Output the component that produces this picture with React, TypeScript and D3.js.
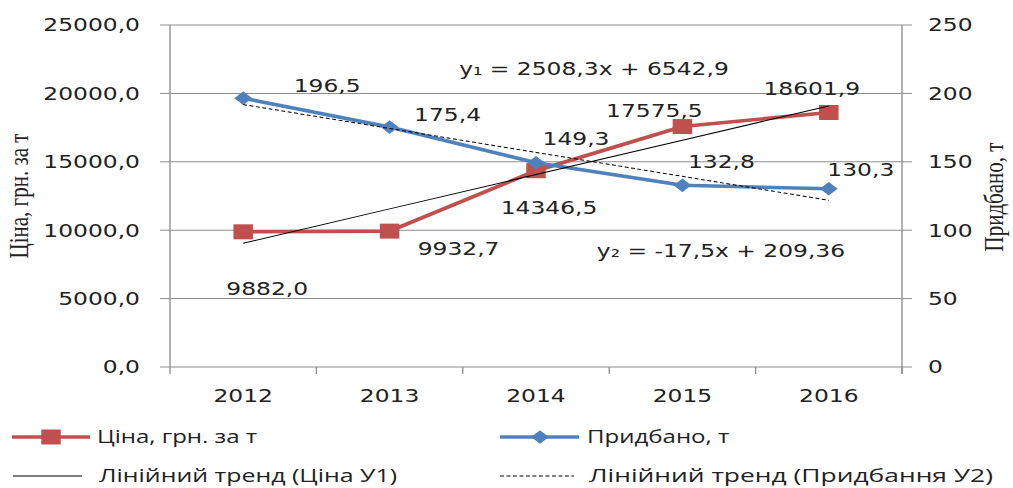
import * as d3 from 'd3';

// chart data
const years = ['2012', '2013', '2014', '2015', '2016'];
const price = [9882.0, 9932.7, 14346.5, 17575.5, 18601.9];
const bought = [196.5, 175.4, 149.3, 132.8, 130.3];
const leftTicks = [0, 5000, 10000, 15000, 20000, 25000];
const rightTicks = [0, 50, 100, 150, 200, 250];
const eq1 = 'y\u2081 = 2508,3x + 6542,9';
const eq2 = 'y\u2082 = -17,5x + 209,36';

// the picture is stretched sideways, so draw in a narrower space and scale x
const SX = 1.3;
const W = 1013;
const H = 488;
const v = (px: number) => px / SX;

// label offsets from their points, in screen pixels (dx to centre, dy to baseline)
const priceLabelOff = [[24, 63], [69, 24], [13, 43], [-28, -10], [-17, -18]];
const boughtLabelOff = [[84, -6], [58, -6], [40, -18], [39, -17], [32, -13]];

const fmt = (n: number, d: number) => n.toFixed(d).replace('.', ',');

function linreg(ys: number[]) {
  const xs = ys.map((_, i) => i + 1);
  const mx = d3.mean(xs) as number;
  const my = d3.mean(ys) as number;
  const b = d3.sum(xs, (x, i) => (x - mx) * (ys[i] - my)) / d3.sum(xs, x => (x - mx) ** 2);
  return { b, a: my - b * mx };
}

export default function App() {
  const x = d3.scaleBand().domain(years).range([v(170), v(902)]);
  const cx = (yr: string) => (x(yr) as number) + x.bandwidth() / 2;
  const yL = d3.scaleLinear().domain([0, 25000]).range([367, 25]);
  const yR = d3.scaleLinear().domain([0, 250]).range([367, 25]);

  const priceLine = d3.line<number>().x((_, i) => cx(years[i])).y(d => yL(d));
  const boughtLine = d3.line<number>().x((_, i) => cx(years[i])).y(d => yR(d));

  const r1 = linreg(price);
  const r2 = linreg(bought);
  const t1 = years.map((_, i) => r1.a + r1.b * (i + 1));
  const t2 = years.map((_, i) => r2.a + r2.b * (i + 1));

  const sq = d3.symbol(d3.symbolSquare, 15 * 15)();
  const dia = d3.symbol(d3.symbolDiamond2, 120)();

  const red = '#C0504D';
  const blue = '#4F81BD';
  const grid = '#8c8c8c';
  const txt = '#222';
  const numFont = '"DejaVu Sans", Verdana, sans-serif';
  const legFont = '"Open Sans", sans-serif';

  const x0 = v(170);
  const x1 = v(902);

  return (
    <svg width={W} height={H} viewBox={`0 0 ${W} ${H}`}
      style={{ position: 'absolute', left: 0, top: 0, background: '#fff' }}>
      <g transform={`scale(${SX},1)`}>
        {/* grid */}
        {leftTicks.map(t => (
          <line key={'g' + t} x1={x0} x2={x1} y1={yL(t)} y2={yL(t)} stroke={grid} strokeWidth={1} />
        ))}
        {/* axes */}
        <line x1={x0} x2={x0} y1={yL(25000)} y2={yL(0) + 7} stroke={grid} />
        <line x1={x1} x2={x1} y1={yL(25000)} y2={yL(0) + 7} stroke={grid} />
        {leftTicks.map(t => (
          <line key={'lt' + t} x1={x0 - v(10)} x2={x0} y1={yL(t)} y2={yL(t)} stroke={grid} />
        ))}
        {rightTicks.map(t => (
          <line key={'rt' + t} x1={x1} x2={x1 + v(10)} y1={yR(t)} y2={yR(t)} stroke={grid} />
        ))}
        {years.map(yr => (
          <line key={'xt' + yr} x1={x.bandwidth() + (x(yr) as number)} x2={x.bandwidth() + (x(yr) as number)}
            y1={yL(0)} y2={yL(0) + 7} stroke={grid} />
        ))}
        {/* tick labels */}
        {leftTicks.map(t => (
          <text key={'ll' + t} x={v(140)} y={yL(t)} dy="0.36em" textAnchor="end"
            fontFamily={numFont} fontSize={18} fill={txt}>{fmt(t, 1)}</text>
        ))}
        {rightTicks.map(t => (
          <text key={'rl' + t} x={v(928)} y={yR(t)} dy="0.36em" textAnchor="start"
            fontFamily={numFont} fontSize={18} fill={txt}>{t}</text>
        ))}
        {years.map(yr => (
          <text key={'xl' + yr} x={cx(yr)} y={402} textAnchor="middle"
            fontFamily={numFont} fontSize={18} fill={txt}>{yr}</text>
        ))}
        {/* axis titles */}
        <text transform={`translate(${v(28)},196) rotate(-90)`} textAnchor="middle"
          fontFamily='"Liberation Serif", "Times New Roman", serif' fontSize={21} fill={txt}>Ціна, грн. за т</text>
        <text transform={`translate(${v(1003)},197) rotate(-90)`} textAnchor="middle"
          fontFamily='"Liberation Serif", "Times New Roman", serif' fontSize={21} fill={txt}>Придбано, т</text>

        {/* series */}
        <path d={priceLine(price) as string} fill="none" stroke={red} strokeWidth={3.6} />
        {price.map((p, i) => (
          <path key={'sq' + i} d={sq as string} transform={`translate(${cx(years[i])},${yL(p)})`} fill={red} />
        ))}
        <path d={boughtLine(bought) as string} fill="none" stroke={blue} strokeWidth={3.6} />
        {bought.map((b, i) => (
          <path key={'dm' + i} d={dia as string} transform={`translate(${cx(years[i])},${yR(b)})`} fill={blue} />
        ))}

        {/* trend lines */}
        <path d={priceLine(t1) as string} fill="none" stroke="#000" strokeWidth={1} />
        <path d={boughtLine(t2) as string} fill="none" stroke="#000" strokeWidth={1} strokeDasharray="3,2" />

        {/* data labels */}
        {price.map((p, i) => (
          <text key={'pl' + i} x={cx(years[i]) + v(priceLabelOff[i][0])} y={yL(p) + priceLabelOff[i][1]}
            textAnchor="middle" fontFamily={numFont} fontSize={18} fill={txt}>{fmt(p, 1)}</text>
        ))}
        {bought.map((b, i) => (
          <text key={'bl' + i} x={cx(years[i]) + v(boughtLabelOff[i][0])} y={yR(b) + boughtLabelOff[i][1]}
            textAnchor="middle" fontFamily={numFont} fontSize={18} fill={txt}>{fmt(b, 1)}</text>
        ))}
        <text x={v(594)} y={75} textAnchor="middle" fontFamily={numFont} fontSize={18} fill={txt}>{eq1}</text>
        <text x={v(721)} y={257} textAnchor="middle" fontFamily={numFont} fontSize={18} fill={txt}>{eq2}</text>

        {/* legend */}
        <g fontFamily={legFont} fontSize={18.5} fill={txt}>
          <line x1={v(12)} x2={v(90)} y1={437} y2={437} stroke={red} strokeWidth={3.6} />
          <path d={sq as string} transform={`translate(${v(51)},437)`} fill={red} />
          <text x={v(97)} y={437} dy="0.35em">Ціна, грн. за т</text>
          <line x1={v(500)} x2={v(579)} y1={437} y2={437} stroke={blue} strokeWidth={3.6} />
          <path d={dia as string} transform={`translate(${v(540)},437)`} fill={blue} />
          <text x={v(587)} y={437} dy="0.35em">Придбано, т</text>
          <line x1={v(13)} x2={v(82)} y1={476} y2={476} stroke="#000" strokeWidth={1} />
          <text x={v(99)} y={476} dy="0.35em" textLength={v(298)} lengthAdjust="spacingAndGlyphs">Лінійний тренд (Ціна У1)</text>
          <line x1={v(500)} x2={v(574)} y1={476} y2={476} stroke="#000" strokeWidth={1} strokeDasharray="3,2" />
          <text x={v(589)} y={476} dy="0.35em" textLength={v(404)} lengthAdjust="spacingAndGlyphs">Лінійний тренд (Придбання У2)</text>
        </g>
      </g>
    </svg>
  );
}
